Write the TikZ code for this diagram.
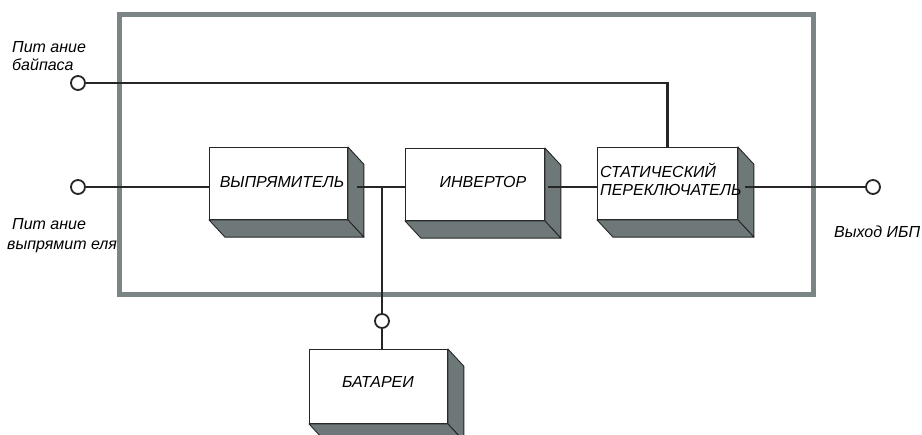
\documentclass[tikz,border=0pt]{standalone}
\usepackage{fontspec}
\setmainfont{Liberation Sans}
\usetikzlibrary{calc}
\definecolor{framec}{HTML}{7B8585}
\definecolor{facec}{HTML}{6E7878}
\tikzset{
  frontbox/.style={draw=black!85, line width=0.9pt, fill=white, inner sep=0pt},
  sideface/.style={fill=facec, draw=black!85, line width=0.9pt, line join=round},
  wire/.style={draw=black!85, line width=2.2pt},
  term/.style={circle, draw=black!85, line width=1.8pt, fill=white, minimum size=14pt, inner sep=0pt},
  lbl/.style={font=\fontsize{16}{18}\selectfont\itshape, inner sep=0pt},
  frame/.style={draw=framec, line width=5pt}
}
\newcommand\boxdepth[1]{%
  \path[sideface] (#1.north east) -- ++(16,17.3) -- ($(#1.south east)+(16,17.3)$) -- (#1.south east) -- cycle;
  \path[sideface] (#1.south west) -- (#1.south east) -- ++(16,17.3) -- ($(#1.south west)+(16,17.3)$) -- cycle;
}
\begin{document}
\begin{tikzpicture}[x=1pt,y=-1pt]
\useasboundingbox (0,0) rectangle (922,435);
% frame
\draw[frame] (119,15) rectangle (813,294.5);

% blocks
\node[frontbox, minimum width=138pt, minimum height=72pt, anchor=north west] (rect) at (209,147) {};
\boxdepth{rect}
\node[frontbox, minimum width=139pt, minimum height=72pt, anchor=north west] (inv) at (405,148) {};
\boxdepth{inv}
\node[frontbox, minimum width=140pt, minimum height=72pt, anchor=north west] (sw) at (597,147) {};
\boxdepth{sw}
\node[frontbox, minimum width=138pt, minimum height=74pt, anchor=north west] (bat) at (309,349) {};
\boxdepth{bat}

% terminals
\node[term] (cbyp) at (78,83) {};
\node[term] (crec) at (78,187) {};
\node[term] (cout) at (873,187) {};
\node[term] (cbat) at (382,321) {};

% block texts
\node[lbl] (trect) at (282,182) {ВЫПРЯМИТЕЛЬ};
\node[lbl] (tinv) at (483,182) {ИНВЕРТОР};
\node[lbl, anchor=west] (tsw1) at (600,170) {СТАТИЧЕСКИЙ};
\node[lbl, anchor=west] (tsw2) at (600,190) {ПЕРЕКЛЮЧАТЕЛЬ};
\node[lbl] (tbat) at (378,382) {БАТАРЕИ};

% external labels
\node[lbl, anchor=west] (lb1) at (12,47) {Пит ание};
\node[lbl, anchor=west] (lb2) at (12,65) {байпаса};
\node[lbl, anchor=west] (lr1) at (12,224) {Пит ание};
\node[lbl, anchor=west] (lr2) at (7,247) {выпрямит еля};
\node[lbl, anchor=west] (lout) at (834,232) {Выход ИБП};

% wires
\coordinate (rout) at (357,187);
\coordinate (j1) at (382,187);
\coordinate (iout) at (548,187);
\coordinate (sout) at (745,187);
\draw[wire] (cbyp.east) -| (sw.north);
\draw[wire] (crec.east) -- (crec.east -| rect.west);
\draw[wire] (rout) -- (rout -| inv.west);
\draw[wire] (j1) -- (cbat.north);
\draw[wire] (cbat.south) -- (bat.north -| cbat);
\draw[wire] (iout) -- (iout -| sw.west);
\draw[wire] (sout) -- (sout -| cout.west);
\end{tikzpicture}
\end{document}
